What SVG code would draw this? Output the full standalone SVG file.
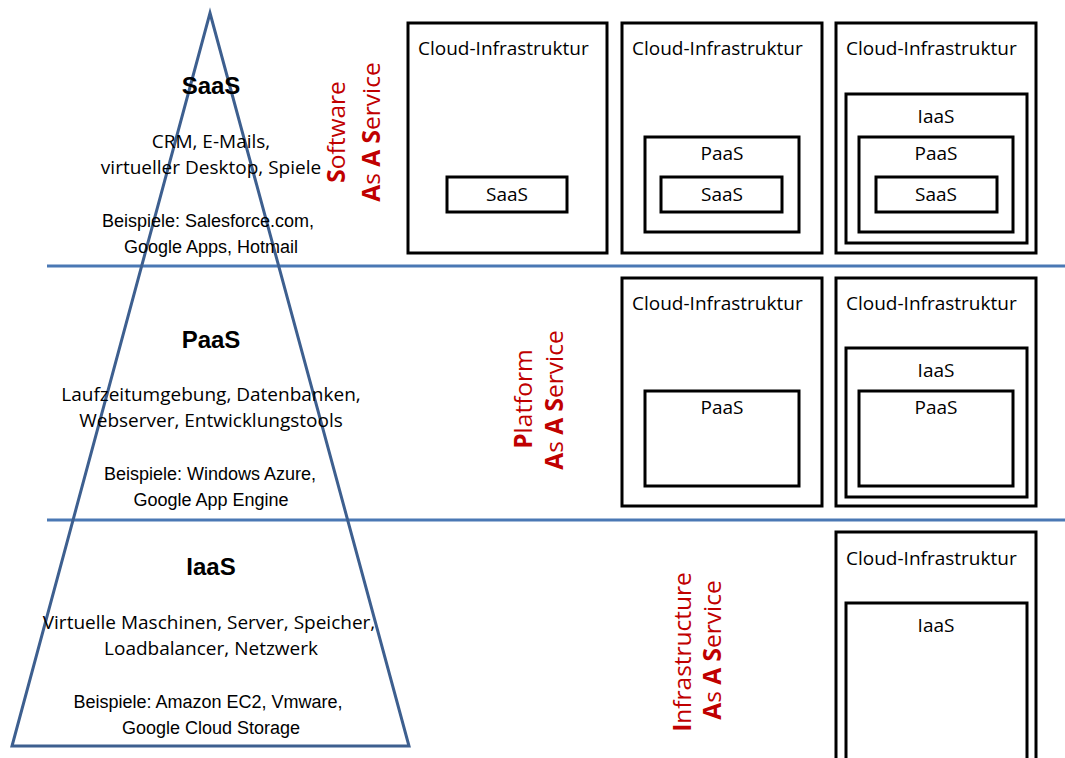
<svg xmlns="http://www.w3.org/2000/svg" width="1065" height="758" viewBox="0 0 1065 758">
  <style>
    .box { fill: none; stroke: #000; stroke-width: 3; }
    .sep { stroke: #4a78b4; stroke-width: 3; }
    .pyr { fill: none; stroke: #3d5f8f; stroke-width: 3; stroke-linejoin: miter; }
    .lbl { font-family: "Open Sans", "Noto Sans", sans-serif; font-size: 19px; fill: #000; }
    .mid { text-anchor: middle; }
    .head { font-family: "Liberation Sans", Arial, sans-serif; font-size: 24px; font-weight: bold; text-anchor: middle; fill: #000; }
    .desc { font-family: "Open Sans", "Noto Sans", sans-serif; font-size: 19px; text-anchor: middle; fill: #000; }
    .ex { font-family: "Liberation Sans", Arial, sans-serif; font-size: 18px; text-anchor: middle; fill: #000; }
    .red { font-family: "Open Sans", "Noto Sans", sans-serif; font-size: 24.5px; fill: #c00000; text-anchor: middle; }
    .b { font-weight: bold; }
  </style>
  <rect width="1065" height="758" fill="#fff"/>

  <!-- separators between the service layers -->
  <g id="connectors">
    <line class="sep" x1="47" y1="266" x2="1065" y2="266"/>
    <line class="sep" x1="47" y1="520" x2="1065" y2="520"/>
  </g>

  <!-- pyramid with layer descriptions -->
  <g id="pyramid">
    <polygon class="pyr" points="210,13 409,746 12,746"/>
  </g>

  <g id="saas-layer">
    <text class="head" x="211" y="94">SaaS</text>
    <text class="desc" x="211" y="148">CRM, E-Mails,</text>
    <text class="desc" x="211" y="174">virtueller Desktop, Spiele</text>
    <text class="ex" x="208" y="227">Beispiele: Salesforce.com,</text>
    <text class="ex" x="211" y="253">Google Apps, Hotmail</text>
  </g>

  <g id="paas-layer">
    <text class="head" x="211" y="348">PaaS</text>
    <text class="desc" x="211" y="401">Laufzeitumgebung, Datenbanken,</text>
    <text class="desc" x="211" y="427">Webserver, Entwicklungstools</text>
    <text class="ex" x="210" y="480">Beispiele: Windows Azure,</text>
    <text class="ex" x="211" y="506">Google App Engine</text>
  </g>

  <g id="iaas-layer">
    <text class="head" x="211" y="575">IaaS</text>
    <text class="desc" x="209" y="629">Virtuelle Maschinen, Server, Speicher,</text>
    <text class="desc" x="211" y="655">Loadbalancer, Netzwerk</text>
    <text class="ex" x="208" y="708">Beispiele: Amazon EC2, Vmware,</text>
    <text class="ex" x="211" y="734">Google Cloud Storage</text>
  </g>

  <!-- vertical layer titles -->
  <g id="title-saas">
    <text class="red" transform="translate(345,132) rotate(-90)"><tspan class="b">S</tspan>oftware</text>
    <text class="red" transform="translate(380,132) rotate(-90)"><tspan class="b">A</tspan>s <tspan class="b">A</tspan> <tspan class="b">S</tspan>ervice</text>
  </g>
  <g id="title-paas">
    <text class="red" transform="translate(532,399) rotate(-90)"><tspan class="b">P</tspan>latform</text>
    <text class="red" transform="translate(563,400) rotate(-90)"><tspan class="b">A</tspan>s <tspan class="b">A</tspan> <tspan class="b">S</tspan>ervice</text>
  </g>
  <g id="title-iaas">
    <text class="red" transform="translate(691,652) rotate(-90)"><tspan class="b">I</tspan>nfrastructure</text>
    <text class="red" transform="translate(721,650) rotate(-90)"><tspan class="b">A</tspan>s <tspan class="b">A</tspan> <tspan class="b">S</tspan>ervice</text>
  </g>

  <!-- SaaS row -->
  <g id="saas-only">
    <rect class="box" x="408" y="23" width="199" height="230"/>
    <text class="lbl" x="418" y="55">Cloud-Infrastruktur</text>
    <rect class="box" x="447" y="177" width="120" height="35"/>
    <text class="lbl mid" x="507" y="201">SaaS</text>
  </g>
  <g id="saas-on-paas">
    <rect class="box" x="622" y="23" width="200" height="230"/>
    <text class="lbl" x="632" y="55">Cloud-Infrastruktur</text>
    <rect class="box" x="645" y="137" width="154" height="95"/>
    <text class="lbl mid" x="722" y="160">PaaS</text>
    <rect class="box" x="661" y="177" width="121" height="35"/>
    <text class="lbl mid" x="722" y="201">SaaS</text>
  </g>
  <g id="saas-on-iaas">
    <rect class="box" x="836" y="23" width="200" height="230"/>
    <text class="lbl" x="846" y="55">Cloud-Infrastruktur</text>
    <rect class="box" x="846" y="94" width="181" height="149"/>
    <text class="lbl mid" x="936" y="123">IaaS</text>
    <rect class="box" x="859" y="137" width="154" height="95"/>
    <text class="lbl mid" x="936" y="160">PaaS</text>
    <rect class="box" x="876" y="177" width="121" height="35"/>
    <text class="lbl mid" x="936" y="201">SaaS</text>
  </g>

  <!-- PaaS row -->
  <g id="paas-only">
    <rect class="box" x="622" y="278" width="200" height="228"/>
    <text class="lbl" x="632" y="310">Cloud-Infrastruktur</text>
    <rect class="box" x="645" y="391" width="154" height="95"/>
    <text class="lbl mid" x="722" y="414">PaaS</text>
  </g>
  <g id="paas-on-iaas">
    <rect class="box" x="836" y="278" width="200" height="228"/>
    <text class="lbl" x="846" y="310">Cloud-Infrastruktur</text>
    <rect class="box" x="846" y="348" width="181" height="149"/>
    <text class="lbl mid" x="936" y="377">IaaS</text>
    <rect class="box" x="859" y="391" width="154" height="95"/>
    <text class="lbl mid" x="936" y="414">PaaS</text>
  </g>

  <!-- IaaS row -->
  <g id="iaas-only">
    <rect class="box" x="836" y="532" width="200" height="240"/>
    <text class="lbl" x="846" y="565">Cloud-Infrastruktur</text>
    <rect class="box" x="846" y="603" width="181" height="170"/>
    <text class="lbl mid" x="936" y="632">IaaS</text>
  </g>
</svg>
